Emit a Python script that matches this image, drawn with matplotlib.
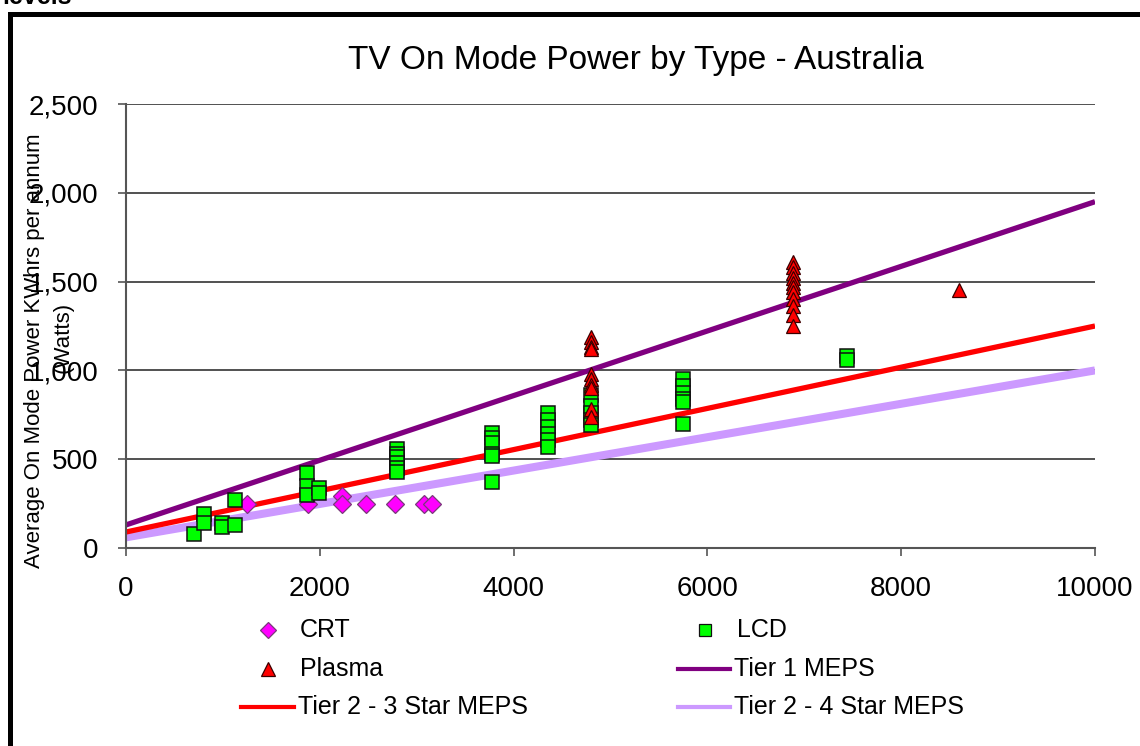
import matplotlib
matplotlib.use('Agg')
import matplotlib.pyplot as plt
from matplotlib.lines import Line2D
from matplotlib.patches import Rectangle
from matplotlib.ticker import FuncFormatter

plt.rcParams['font.family'] = ['Liberation Sans', 'DejaVu Sans']

# ---------------- data ----------------
crt_x = [1250, 1880, 2230, 2230, 2480, 2780, 3080, 3160]
crt_y = [250, 250, 290, 250, 250, 250, 250, 250]

lcd_x = [700, 800, 800, 990, 990, 1120, 1120,
         1870, 1870, 1870, 1990, 1990,
         2800, 2800, 2800, 2800, 2800, 2800,
         3780, 3780, 3780, 3780, 3780, 3780,
         4360, 4360, 4360, 4360, 4360, 4360,
         4800, 4800, 4800, 4800, 4800,
         5750, 5750, 5750, 5750, 5750, 5750,
         7440, 7440]
lcd_y = [80, 190, 140, 140, 120, 270, 130,
         420, 350, 300, 340, 310,
         560, 530, 510, 480, 450, 430,
         650, 620, 590, 530, 520, 370,
         760, 720, 680, 640, 610, 570,
         860, 800, 760, 720, 690,
         950, 910, 870, 840, 820, 700,
         1080, 1060]

plasma_x = [4800] * 10 + [6880] * 11 + [8600]
plasma_y = [1190, 1160, 1130, 1120, 980, 950, 920, 900, 780, 740,
            1610, 1580, 1550, 1520, 1490, 1470, 1440, 1400, 1360, 1310, 1250,
            1450]

meps_x = [0, 10000]
tier1_y = [130, 1950]
tier2_3star_y = [90, 1250]
tier2_4star_y = [60, 1000]

x_ticks = [0, 2000, 4000, 6000, 8000, 10000]
y_ticks = [0, 500, 1000, 1500, 2000, 2500]

title = 'TV On Mode Power by Type - Australia'
ylabel_1 = 'Average On Mode Power KWhrs per annum'
ylabel_2 = '(Watts)'

# ---------------- figure ----------------
W, H, DPI = 1140, 746, 100
fig = plt.figure(figsize=(W / DPI, H / DPI), dpi=DPI)


def fx(px):
    return px / W


def fy(py):
    return 1 - py / H


ax = fig.add_axes([fx(126), fy(548), fx(1095) - fx(126), fy(104) - fy(548)])

c_crt = '#ff00ff'
c_lcd = '#00ff00'
c_pl = '#ff0000'
c_t1 = '#800080'
c_t23 = '#ff0000'
c_t24 = '#cc99ff'

ax.plot(meps_x, tier2_4star_y, color=c_t24, lw=5.8, solid_capstyle='butt', zorder=2)
ax.plot(meps_x, tier2_3star_y, color=c_t23, lw=3.8, solid_capstyle='butt', zorder=2.1)
ax.plot(meps_x, tier1_y, color=c_t1, lw=3.8, solid_capstyle='butt', zorder=2.2)

ax.plot(crt_x, crt_y, ls='none', marker='D', ms=8.8, mfc=c_crt, mec='#7a3a7a', mew=0.9, zorder=3)
ax.plot(lcd_x, lcd_y, ls='none', marker='s', ms=9.6, mfc=c_lcd, mec='#111111', mew=1.1, zorder=3.1)
ax.plot(plasma_x, plasma_y, ls='none', marker='^', ms=10.5, mfc=c_pl, mec='#3a0000', mew=0.9, zorder=3.2)

ax.set_xlim(0, 10000)
ax.set_ylim(0, 2500)
ax.set_xticks(x_ticks)
ax.set_yticks(y_ticks)
ax.yaxis.set_major_formatter(FuncFormatter(lambda v, p: f'{int(v):,}'))
ax.xaxis.set_major_formatter(FuncFormatter(lambda v, p: f'{int(v)}'))

ax.grid(axis='y', color='#222222', lw=1.1)
ax.set_axisbelow(True)
for s in ['top', 'right']:
    ax.spines[s].set_visible(False)
for s in ['left', 'bottom']:
    ax.spines[s].set_color('#555555')
    ax.spines[s].set_linewidth(1.5)
ax.tick_params(axis='both', labelsize=20, color='#555555', width=1.2, length=6, pad=14)

# title & axis labels
fig.text(fx(636), fy(61), title, ha='center', va='center', fontsize=24)
fig.text(fx(35), fy(351), ylabel_1, rotation=90, ha='center', va='center', fontsize=16)
fig.text(fx(63), fy(337), ylabel_2, rotation=90, ha='center', va='center', fontsize=16)

# legend (Excel style, drawn manually)
leg_fs = 18


def leg_marker(px, py, marker, ms, fc, ec, label):
    fig.add_artist(Line2D([fx(px)], [fy(py)], marker=marker, ms=ms, mfc=fc, mec=ec,
                          mew=0.9, ls='none', transform=fig.transFigure))
    fig.text(fx(px + 32), fy(py), label, ha='left', va='center', fontsize=leg_fs)


def leg_line(px0, px1, py, color, label):
    fig.add_artist(Line2D([fx(px0), fx(px1)], [fy(py), fy(py)], color=color, lw=3,
                          transform=fig.transFigure))
    fig.text(fx(px1 + 4), fy(py), label, ha='left', va='center', fontsize=leg_fs)


leg_marker(268, 630, 'D', 8, c_crt, '#7a3a7a', 'CRT')
leg_marker(705, 630, 's', 9, c_lcd, '#111111', 'LCD')
leg_marker(268, 669, '^', 9.5, c_pl, '#3a0000', 'Plasma')
leg_line(678, 730, 669, c_t1, 'Tier 1 MEPS')
leg_line(241, 294, 707, c_t23, 'Tier 2 - 3 Star MEPS')
leg_line(678, 730, 707, c_t24, 'Tier 2 - 4 Star MEPS')

# outer frame and clipped heading text
fig.add_artist(Rectangle((fx(10), -0.1), 1.2, fy(14) + 0.1, transform=fig.transFigure,
                         fill=False, ec='black', lw=3.6))
fig.text(fx(2), fy(4), 'levels', ha='left', va='baseline', fontsize=18, fontweight='bold')

fig.savefig('out.png', dpi=DPI)
